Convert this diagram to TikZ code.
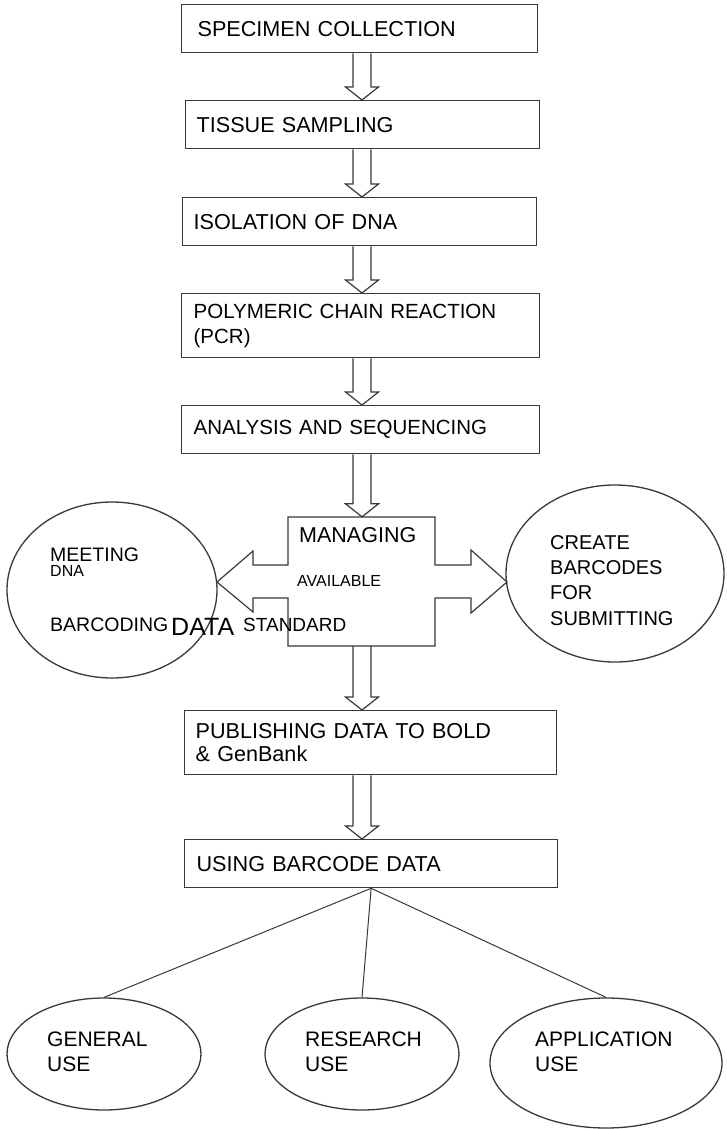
\documentclass[tikz,border=0pt]{standalone}
\usepackage{fontspec}
\setmainfont{Liberation Sans}
\usetikzlibrary{shapes.geometric,calc}

% hollow down arrow between two stacked nodes, shaft centred at x = #3
\newcommand\hollowarrow[3]{%
  \draw[flow] let \p1=(#1.south), \p2=(#2.north) in
    (#3pt-9pt,\y1) -- (#3pt-9pt,\y2+13pt) -- (#3pt-16.5pt,\y2+13pt) -- (#3pt,\y2)
    -- (#3pt+16.5pt,\y2+13pt) -- (#3pt+9pt,\y2+13pt) -- (#3pt+9pt,\y1);
}

\begin{document}
\begin{tikzpicture}[x=1pt,y=-1pt,
  ink/.style={draw=black!78, line width=1.3pt},
  box/.style={ink, rectangle, anchor=north west, align=left, inner xsep=12, inner ysep=0,
    font=\fontsize{21.6}{24}\selectfont},
  smallbox/.style={font=\fontsize{20.5}{25}\selectfont},
  oval/.style={ink, ellipse, inner sep=0},
  lbl/.style={anchor=base west, inner sep=0, font=\fontsize{#1}{#1}\selectfont},
  lbl/.default=20,
  flow/.style={draw=black!78, line width=1.2pt, line join=miter},
  branch/.style={draw=black!78, line width=1pt}
]
\useasboundingbox (0,0) rectangle (726,1129);

% process steps
\node[box, minimum height=48, text width=324, inner xsep=16] (b1) at (181,4) {SPECIMEN COLLECTION};
\node[box, minimum height=48, text width=332, inner xsep=11] (b2) at (185,100) {TISSUE SAMPLING};
\node[box, minimum height=48, text width=332, inner xsep=11] (b3) at (182,197) {ISOLATION OF DNA};
\node[box, smallbox, minimum height=64, text width=334] (b4) at (181,293) {POLYMERIC CHAIN REACTION\\(PCR)};
\node[box, smallbox, minimum height=48, text width=334] (b5) at (181,405) {ANALYSIS AND SEQUENCING};
\node[box, minimum height=64, text width=350, inner xsep=11, font=\fontsize{21.6}{23}\selectfont] (pub) at (184,710) {PUBLISHING DATA TO BOLD\\\& GenBank};
\node[box, minimum height=48, text width=349] (use) at (184,839) {USING BARCODE DATA};

% central cross with two side arrows
\node[minimum width=147, minimum height=129, inner sep=0] (manage) at (361.5,581.5) {};
\draw[flow] (288,517) -- (435,517) -- (435,565) -- (471,565) -- (471,550) -- (507,582)
  -- (471,613) -- (471,598) -- (435,598) -- (435,646) -- (288,646) -- (288,598)
  -- (253,598) -- (253,612) -- (217,582) -- (253,551) -- (253,565) -- (288,565) -- cycle;

% side ellipses
\node[oval, minimum width=210, minimum height=176] (meet) at (112,590) {};
\node[oval, minimum width=218, minimum height=177] (create) at (615,573.5) {};

% texts of the cross and the side ellipses
\node[lbl=21.5] (tmanage) at (299,542) {MANAGING};
\node[lbl=16] (tavail) at (297,586) {AVAILABLE};
\node[lbl=19.5] (tmeet) at (50,561) {MEETING};
\node[lbl=16] (tdna) at (50,576) {DNA};
\node[lbl=19.5] (tbarc) at (50,631) {BARCODING};
\node[lbl=25] (tdata) at (171,635) {DATA};
\node[lbl=19] (tstd) at (243,631) {STANDARD};
\node[lbl=20, anchor=north west, align=left, font=\fontsize{20}{25.3}\selectfont] (tcreate) at (550,535) {CREATE\\BARCODES\\FOR\\SUBMITTING};

% hollow arrows down the chain
\hollowarrow{b1}{b2}{362}
\hollowarrow{b2}{b3}{362}
\hollowarrow{b3}{b4}{362}
\hollowarrow{b4}{b5}{362}
\hollowarrow{b5}{manage}{362}
\hollowarrow{manage}{pub}{362}
\hollowarrow{pub}{use}{362}

% uses of barcode data
\node[oval, minimum width=194, minimum height=112] (gen) at (104,1054) {};
\node[oval, minimum width=194, minimum height=112] (res) at (362,1054) {};
\node[oval, minimum width=232, minimum height=130] (app) at (606,1063) {};
\node[lbl=21, anchor=north west, align=left, font=\fontsize{21}{25}\selectfont] (tgen) at (47,1032) {GENERAL\\USE};
\node[lbl=21, anchor=north west, align=left, font=\fontsize{21}{25}\selectfont] (tres) at (305,1032) {RESEARCH\\USE};
\node[lbl=21, anchor=north west, align=left, font=\fontsize{21}{25}\selectfont] (tapp) at (535,1032) {APPLICATION\\USE};

\draw[branch] (use.south) -- (gen.north);
\draw[branch] (use.south) -- (res.north);
\draw[branch] (use.south) -- (app.north);
\end{tikzpicture}
\end{document}
